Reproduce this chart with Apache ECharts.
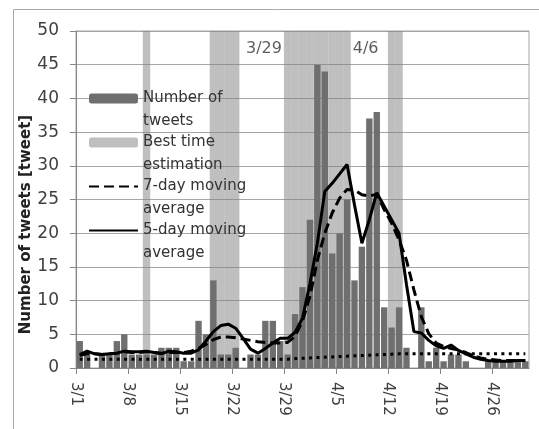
<!DOCTYPE html>
<html><head><meta charset="utf-8">
<script src="https://cdn.jsdelivr.net/npm/echarts@6/dist/echarts.min.js"></script>
<style>html,body{margin:0;padding:0;background:#fff}#c{width:539px;height:429px}</style>
</head><body><div id="c"></div>
<script>
// Daily tweet counts, 3/1 .. 4/30 (61 days)
const tweets = [4,2,0,2,2,4,5,2,2,2,
  2,3,3,3,1,1,7,5,13,2,
  2,3,0,2,2,7,7,4,2,8,
  12,22,45,44,17,20,25,13,18,37,
  38,9,6,9,3,0,9,1,3,1,
  2,2,1,0,0,1,1,1,1,1,
  1];
const ma7 = [1.9,2.1,2.1,2.0,2.1,2.2,2.4,2.3,2.3,2.4,
  2.3,2.2,2.3,2.3,2.3,2.5,2.9,3.5,4.2,4.6,
  4.6,4.5,4.3,4.1,3.9,3.8,3.7,3.7,3.8,4.7,
  7.0,10.6,16.0,20.0,23.0,25.2,26.5,26.4,25.7,25.5,
  25.8,23.5,21.5,19.0,16.0,11.6,7.6,5.1,3.7,3.2,
  2.9,2.7,2.3,1.8,1.5,1.3,1.2,1.1,1.1,1.1,
  1.1];
const ma5 = [2.0,2.5,2.1,2.0,2.1,2.2,2.5,2.4,2.4,2.5,
  2.3,2.1,2.5,2.4,2.2,2.2,2.7,4.0,5.4,6.3,
  6.5,5.9,4.4,2.8,2.2,2.9,3.7,4.4,4.4,5.3,
  7.4,12.5,18.5,26.2,27.4,28.8,30.2,24.2,18.5,22.0,
  26.0,24.0,22.0,20.0,12.4,5.4,5.2,4.1,3.3,2.9,
  3.4,2.6,2.1,1.6,1.3,1.1,1.0,1.0,1.0,1.1,
  1.1];
const baseline = [1.3,1.3,1.3,1.3,1.3,1.3,1.3,1.3,1.3,1.3,
  1.3,1.3,1.3,1.3,1.3,1.3,1.3,1.3,1.3,1.3,
  1.3,1.3,1.3,1.3,1.3,1.3,1.3,1.3,1.3,1.4,
  1.45,1.5,1.55,1.6,1.65,1.7,1.75,1.8,1.85,1.9,
  1.95,2.0,2.05,2.1,2.1,2.1,2.1,2.1,2.1,2.1,
  2.1,2.1,2.1,2.1,2.1,2.1,2.1,2.1,2.1,2.1,
  2.1];
// Best time estimation periods (day index start..end, inclusive)
const bestTimeRanges = [[9,9],[18,21],[28,36],[42,43]];
const bandLevel = 50;
const tickDays = [0,7,14,21,28,35,42,49,56];
const tickLabels = ['3/1','3/8','3/15','3/22','3/29','4/5','4/12','4/19','4/26'];
const noteDays = [28,37];
const noteLabels = ['3/29','4/6'];
const noteLevel = 47.3;
const dayCount = tweets.length;

const FONT = 'DejaVu Sans';
const tweetData = tweets.map((v,i)=>[i+0.5,v]);
const bandData = [];
bestTimeRanges.forEach(r=>{ for(let d=r[0]; d<=r[1]; d++) bandData.push([d+0.5, bandLevel]); });
const line = arr => arr.map((v,i)=>[i+0.5,v]);
// leading blank line keeps the icon level with the first text line
const legendText = {
  'Number of tweets':' \nNumber of\ntweets',
  'Best time estimation':' \nBest time\nestimation',
  '7-day moving average':' \n7-day moving\naverage',
  '5-day moving average':' \n5-day moving\naverage'
};
const noteData = noteDays.map((d,i)=>({
  value:[d, noteLevel], name: noteLabels[i],
  label:{position: i===0 ? 'left' : 'right'}
}));
const hideSym = {color:'rgba(0,0,0,0)', borderWidth:0};

const chart = echarts.init(document.getElementById('c'), null, {renderer:'canvas'});
chart.setOption({
  animation:false,
  backgroundColor:'#fff',
  textStyle:{fontFamily:FONT},
  graphic:[{type:'rect', silent:true, z:-10,
    shape:{x:13.5,y:9.5,width:540,height:440},
    style:{fill:'none', stroke:'#a8a8a8', lineWidth:1}}],
  grid:{left:76,right:10,top:31,bottom:61,show:true,borderColor:'#a6a6a6',borderWidth:1,backgroundColor:'transparent'},
  legend:{
    orient:'vertical', left:88, top:64, padding:0, itemGap:-25,
    itemWidth:49, itemHeight:10, selectedMode:false,
    data:[{name:'Number of tweets'},{name:'Best time estimation'},
      {name:'7-day moving average', itemStyle:hideSym},
      {name:'5-day moving average', itemStyle:hideSym}],
    formatter:n=>legendText[n],
    textStyle:{fontFamily:FONT,fontSize:15,lineHeight:23,color:'#333'}
  },
  xAxis:[{
    type:'value', min:0, max:dayCount, interval:7,
    splitLine:{show:false},
    axisLine:{lineStyle:{color:'#868686'}},
    axisTick:{show:true,length:6,customValues:tickDays,lineStyle:{color:'#868686'}},
    axisLabel:{rotate:-90, margin:14, fontSize:15, color:'#404040', fontFamily:FONT,
      customValues:tickDays,
      formatter:v=>{const k=tickDays.indexOf(v); return k<0?'':tickLabels[k];}}
  },{
    type:'value', min:0, max:dayCount, show:false
  }],
  yAxis:{
    type:'value', min:0, max:50, interval:5,
    name:'Number of tweets [tweet]', nameLocation:'middle', nameGap:42, nameRotate:90,
    nameMoveOverlap:false,
    nameTextStyle:{fontFamily:FONT,fontSize:15,fontWeight:'bold',color:'#222',padding:[0,50,0,0]},
    axisLine:{show:true,lineStyle:{color:'#868686'}},
    axisTick:{show:true,length:6,lineStyle:{color:'#868686'}},
    axisLabel:{fontSize:17,color:'#404040',margin:17,fontFamily:FONT},
    splitLine:{lineStyle:{color:'#a6a6a6',width:1}}
  },
  series:[
    {name:'Best time estimation', type:'bar', xAxisIndex:1, data:bandData, barWidth:'100%',
      itemStyle:{color:'rgba(128,128,128,0.5)'}},
    {name:'Number of tweets', type:'bar', xAxisIndex:0, data:tweetData, barWidth:'86%',
      itemStyle:{color:'#6f6f6f'}},
    {name:'baseline', type:'line', data:line(baseline), symbol:'none',
      itemStyle:{color:'#000'},
      lineStyle:{color:'#000',width:3,type:[3,4.4],cap:'butt'}},
    {name:'7-day moving average', type:'line', data:line(ma7), symbol:'none',
      itemStyle:{color:'#000'},
      lineStyle:{color:'#000',width:3,type:[10,5]}},
    {name:'5-day moving average', type:'line', data:line(ma5), symbol:'none',
      itemStyle:{color:'#000'},
      lineStyle:{color:'#000',width:3}},
    {name:'notes', type:'scatter', data:noteData, symbolSize:0, silent:true,
      label:{show:true, formatter:p=>p.name, fontSize:16, color:'#333', fontFamily:FONT, distance:2}}
  ]
});
</script></body></html>
